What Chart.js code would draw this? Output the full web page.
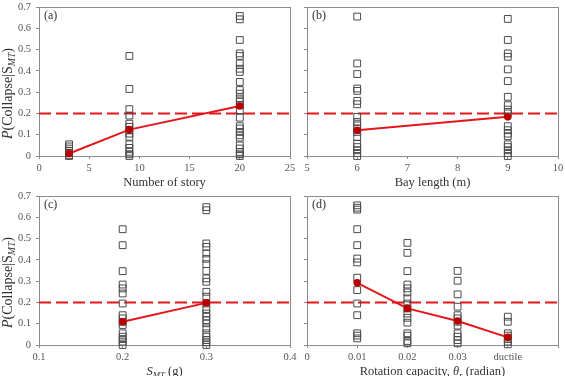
<!DOCTYPE html>
<html>
<head>
<meta charset="utf-8">
<script src="https://cdn.jsdelivr.net/npm/chart.js@4.4.0/dist/chart.umd.min.js"></script>
<style>
  html, body { margin: 0; padding: 0; background: #fff; }
  #wrap { position: relative; width: 565px; height: 376px; overflow: hidden; }
  #wrap canvas { position: absolute; }
</style>
</head>
<body>
<div id="wrap">
  <canvas id="chartA" width="300" height="190" style="left:0;top:0"></canvas>
  <canvas id="chartB" width="273" height="190" style="left:292px;top:0"></canvas>
  <canvas id="chartC" width="300" height="187" style="left:0;top:189px"></canvas>
  <canvas id="chartD" width="273" height="187" style="left:292px;top:189px"></canvas>
</div>
<script>
( function () {
	"use strict";

	// common
	var yTicks = [0, 0.1, 0.2, 0.3, 0.4, 0.5, 0.6, 0.7];
	var yTickLabels = ["0", "0.1", "0.2", "0.3", "0.4", "0.5", "0.6", "0.7"];
	var thresholdP = 0.2;

	// (a) number of story
	var storyLevels = [3, 9, 20];
	var story3 = [0.055, 0.045, 0.035, 0.025, 0.015, 0.005, 0];
	var story9 = [0.47, 0.315, 0.22, 0.19, 0.152, 0.137, 0.12, 0.105, 0.09, 0.055, 0.038, 0.02, 0.008, 0];
	var story20 = [0.658, 0.642, 0.545, 0.482, 0.47, 0.435, 0.41, 0.395, 0.348, 0.31, 0.293, 0.27, 0.255, 0.24,
		0.215, 0.18, 0.14, 0.129, 0.113, 0.097, 0.086, 0.05, 0.035, 0.019, 0.008, 0];
	var storyMean = [0.012, 0.124, 0.235];
	var storyTicks = [0, 5, 10, 15, 20, 25];
	var storyTickLabels = ["0", "5", "10", "15", "20", "25"];

	// (b) bay length
	var bayLevels = [6, 9];
	var bay6 = [0.655, 0.435, 0.385, 0.317, 0.306, 0.259, 0.243, 0.184, 0.16, 0.144, 0.129, 0.113, 0.089,
		0.058, 0.042, 0.027, 0.014, 0];
	var bay9 = [0.644, 0.545, 0.482, 0.466, 0.407, 0.352, 0.278, 0.239, 0.218, 0.2, 0.14, 0.121, 0.105,
		0.093, 0.055, 0.042, 0.027, 0.014, 0];
	var bayMean = [0.121, 0.184];
	var bayTicks = [5, 6, 7, 8, 9, 10];
	var bayTickLabels = ["5", "6", "7", "8", "9", "10"];

	// (c) S_MT
	var smtLevels = [0.2, 0.3];
	var smt02 = [0.544, 0.469, 0.347, 0.284, 0.266, 0.242, 0.195, 0.14, 0.125, 0.109, 0.094, 0.055, 0.039,
		0.028, 0.016, 0];
	var smt03 = [0.648, 0.633, 0.477, 0.461, 0.43, 0.405, 0.38, 0.348, 0.313, 0.297, 0.25, 0.227, 0.195,
		0.169, 0.148, 0.133, 0.117, 0.102, 0.078, 0.055, 0.039, 0.023, 0.013, 0];
	var smtMean = [0.109, 0.198];
	var smtTicks = [0.1, 0.2, 0.3, 0.4];
	var smtTickLabels = ["0.1", "0.2", "0.3", "0.4"];

	// (d) rotation capacity
	var rotationLevels = [0.01, 0.02, 0.03, 0.04];
	var rot001 = [0.656, 0.645, 0.636, 0.544, 0.469, 0.406, 0.388, 0.316, 0.258, 0.195, 0.14, 0.055, 0.044, 0.031];
	var rot002 = [0.48, 0.433, 0.347, 0.284, 0.266, 0.247, 0.219, 0.195, 0.172, 0.148, 0.128, 0.105, 0.055,
		0.044, 0.019, 0.008];
	var rot003 = [0.348, 0.302, 0.238, 0.18, 0.14, 0.125, 0.109, 0.091, 0.055, 0.039, 0.023, 0.008];
	var rotDuctile = [0.133, 0.109, 0.055, 0.044, 0.028, 0.016, 0.003];
	var rotationMean = [0.292, 0.172, 0.113, 0.036];
	var rotationTicks = [0, 0.01, 0.02, 0.03, 0.04, 0.05];
	var rotationTickLabels = ["0", "0.01", "0.02", "0.03", "ductile", ""];

	var serif = "'Liberation Serif', 'Times New Roman', serif";
	var axisGray = "#8c8c8c";
	var red = "#e3171b";

	var yTitle = [ { t: "P", i: true }, { t: "(Collapse|" }, { t: "S" }, { t: "MT", i: true, sub: true }, { t: ")" } ];

	function fontFor( p, size ) {
		return ( p.i ? "italic " : "" ) + ( p.sub ? size * 0.7 : size ) + "px " + serif;
	}

	function drawRich( ctx, parts, x, y, size, rotate ) {
		var widths = parts.map( function ( p ) {
			ctx.font = fontFor( p, size );
			return ctx.measureText( p.t ).width;
		} );
		var total = widths.reduce( function ( a, b ) { return a + b; }, 0 );
		ctx.save();
		ctx.translate( x, y );
		if ( rotate ) ctx.rotate( -Math.PI / 2 );
		ctx.textBaseline = "middle";
		ctx.textAlign = "left";
		ctx.fillStyle = "#333";
		var cx = -total / 2;
		parts.forEach( function ( p, i ) {
			ctx.font = fontFor( p, size );
			ctx.fillText( p.t, cx, p.sub ? size * 0.3 : 0 );
			cx += widths[ i ];
		} );
		ctx.restore();
	}

	var panelDecor = {
		id: "panelDecor",
		beforeDatasetsDraw: function ( chart ) {
			var a = chart.chartArea, ctx = chart.ctx;
			ctx.save();
			ctx.strokeStyle = axisGray;
			ctx.lineWidth = 1;
			ctx.strokeRect( Math.round( a.left ) + 0.5, Math.round( a.top ) + 0.5,
				Math.round( a.right - a.left ), Math.round( a.bottom - a.top ) );
			ctx.restore();
		},
		afterDraw: function ( chart, args, opts ) {
			var a = chart.chartArea, ctx = chart.ctx;
			ctx.save();
			ctx.font = "12px " + serif;
			ctx.fillStyle = "#333";
			ctx.textBaseline = "middle";
			ctx.fillText( opts.letter, a.left + 5, a.top + 9 );
			ctx.restore();
			drawRich( ctx, opts.xTitle, ( a.left + a.right ) / 2, a.bottom + 27, 12.5, false );
			if ( opts.showY ) {
				drawRich( ctx, yTitle, 8, ( a.top + a.bottom ) / 2 + 12, 14, true );
			}
		}
	};

	function makePanel( id, cfg ) {
		var squares = [];
		cfg.levels.forEach( function ( x, i ) {
			cfg.groups[ i ].forEach( function ( y ) { squares.push( { x: x, y: y } ); } );
		} );
		var means = cfg.levels.map( function ( x, i ) { return { x: x, y: cfg.mean[ i ] }; } );
		var xMin = cfg.xTicks[ 0 ], xMax = cfg.xTicks[ cfg.xTicks.length - 1 ];

		return new Chart( document.getElementById( id ), {
			type: "scatter",
			data: {
				datasets: [ {
					data: means,
					showLine: true,
					borderColor: red,
					borderWidth: 2,
					pointStyle: "circle",
					pointRadius: 2.8,
					pointBackgroundColor: "#b80000",
					pointBorderColor: "#b80000",
					clip: false,
					order: 0
				}, {
					data: squares,
					pointStyle: "rect",
					pointRadius: 4.8,
					borderColor: "#4a4a4a",
					backgroundColor: "rgba(255,255,255,0)",
					borderWidth: 1,
					clip: false,
					order: 1
				}, {
					data: [ { x: xMin, y: thresholdP }, { x: xMax, y: thresholdP } ],
					showLine: true,
					borderColor: red,
					borderWidth: 2,
					borderDash: [ 12, 5 ],
					pointRadius: 0,
					order: 2
				} ]
			},
			options: {
				responsive: false,
				animation: false,
				layout: { padding: { top: 7, right: cfg.padRight, left: 0, bottom: 0 } },
				plugins: {
					legend: { display: false },
					tooltip: { enabled: false },
					panelDecor: { letter: cfg.letter, xTitle: cfg.xTitle, showY: cfg.showY }
				},
				scales: {
					x: {
						type: "linear",
						min: xMin,
						max: xMax,
						afterBuildTicks: function ( s ) {
							s.ticks = cfg.xTicks.map( function ( v ) { return { value: v }; } );
						},
						afterFit: function ( s ) {
							s.height = cfg.xHeight;
							s.paddingLeft = 0;
							s.paddingRight = 0;
						},
						ticks: {
							color: "#555",
							font: { family: serif, size: 10.5 },
							padding: 3,
							maxRotation: 0,
							autoSkip: false,
							callback: function ( v, i ) { return cfg.xLabels[ i ]; }
						},
						grid: { drawOnChartArea: false, drawTicks: true, tickLength: 3, color: axisGray },
						border: { display: false }
					},
					y: {
						type: "linear",
						min: 0,
						max: 0.7,
						afterBuildTicks: function ( s ) {
							s.ticks = yTicks.map( function ( v ) { return { value: v }; } );
						},
						afterFit: function ( s ) {
							s.width = cfg.yWidth;
							s.paddingTop = 0;
							s.paddingBottom = 0;
						},
						ticks: {
							display: cfg.showY,
							color: "#555",
							font: { family: serif, size: 10.5 },
							padding: 5,
							autoSkip: false,
							callback: function ( v, i ) { return yTickLabels[ i ]; }
						},
						grid: { drawOnChartArea: false, drawTicks: true, tickLength: 3, color: axisGray },
						border: { display: false }
					}
				}
			},
			plugins: [ panelDecor ]
		} );
	}

	makePanel( "chartA", {
		letter: "(a)", showY: true, yWidth: 39, xHeight: 34, padRight: 10,
		levels: storyLevels, groups: [ story3, story9, story20 ], mean: storyMean,
		xTicks: storyTicks, xLabels: storyTickLabels,
		xTitle: [ { t: "Number of story" } ]
	} );

	makePanel( "chartB", {
		letter: "(b)", showY: false, yWidth: 15, xHeight: 34, padRight: 7,
		levels: bayLevels, groups: [ bay6, bay9 ], mean: bayMean,
		xTicks: bayTicks, xLabels: bayTickLabels,
		xTitle: [ { t: "Bay length (m)" } ]
	} );

	makePanel( "chartC", {
		letter: "(c)", showY: true, yWidth: 39, xHeight: 31, padRight: 10,
		levels: smtLevels, groups: [ smt02, smt03 ], mean: smtMean,
		xTicks: smtTicks, xLabels: smtTickLabels,
		xTitle: [ { t: "S", i: true }, { t: "MT", i: true, sub: true }, { t: " (g)" } ]
	} );

	makePanel( "chartD", {
		letter: "(d)", showY: false, yWidth: 15, xHeight: 31, padRight: 7,
		levels: rotationLevels, groups: [ rot001, rot002, rot003, rotDuctile ], mean: rotationMean,
		xTicks: rotationTicks, xLabels: rotationTickLabels,
		xTitle: [ { t: "Rotation capacity, " }, { t: "θ", i: true }, { t: "r", i: true, sub: true }, { t: " (radian)" } ]
	} );

} )();
</script>
</body>
</html>
